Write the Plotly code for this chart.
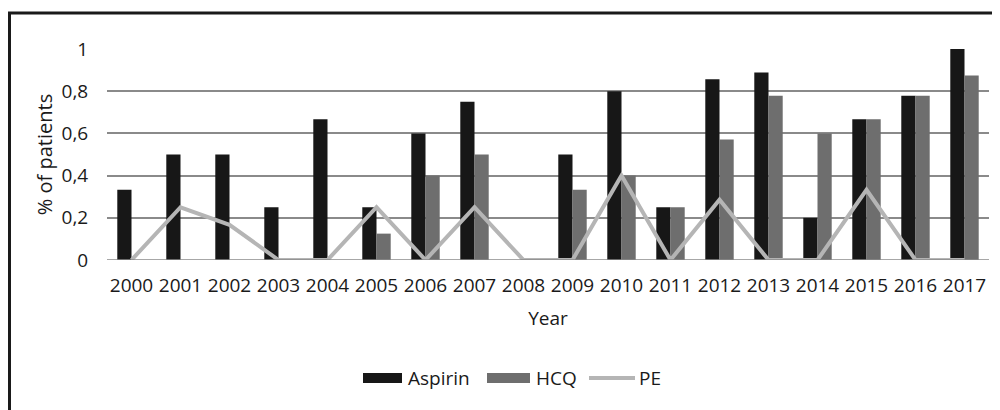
import plotly.graph_objects as go

years = [str(y) for y in range(2000, 2018)]
aspirin = [0.333, 0.5, 0.5, 0.25, 0.667, 0.25, 0.6, 0.75, 0, 0.5, 0.8, 0.25, 0.857, 0.889, 0.2, 0.667, 0.778, 1.0]
hcq = [0, 0, 0, 0, 0, 0.125, 0.4, 0.5, 0, 0.333, 0.4, 0.25, 0.571, 0.778, 0.6, 0.667, 0.778, 0.875]
pe = [0, 0.25, 0.167, 0, 0, 0.25, 0, 0.25, 0, 0, 0.4, 0, 0.286, 0, 0, 0.333, 0, 0]
y_ticks = [0, 0.2, 0.4, 0.6, 0.8, 1]
y_tick_text = ["0", "0,2", "0,4", "0,6", "0,8", "1"]
series_names = ["Aspirin", "HCQ", "PE"]

C_ASP = "#171717"
C_HCQ = "#6e6e6e"
C_PE = "#b5b5b5"
FONT = "Open Sans"
TXT = "#1a1a1a"
FS = 19

# page has an 8px body margin: work in screen pixels, convert to figure pixels
OFF = 8
W, H = 1000 - OFF, 410 - OFF
L, R, T, B = 107 - OFF, 11, 49 - OFF, 150
pw, ph = W - L - R, H - T - B

def px_x(p):
    return (p - OFF - L) / pw

def px_y(p):
    return (H - B - (p - OFF)) / ph

fig = go.Figure()
fig.add_trace(go.Bar(x=years, y=aspirin, name=series_names[0], marker_color=C_ASP, marker_line_width=0, showlegend=False))
fig.add_trace(go.Bar(x=years, y=hcq, name=series_names[1], marker_color=C_HCQ, marker_line_width=0, showlegend=False))
fig.add_trace(go.Scatter(x=years, y=pe, name=series_names[2], mode="lines", line=dict(color=C_PE, width=4), showlegend=False))

fig.update_layout(
    width=W, height=H,
    margin=dict(l=L, r=R, t=T, b=B),
    paper_bgcolor="white", plot_bgcolor="white",
    barmode="group", bargap=0.42, bargroupgap=0,
    font=dict(family=FONT, size=FS, color=TXT),
    xaxis=dict(
        type="category", showgrid=False, zeroline=False, showline=False,
        ticks="outside", ticklen=8, tickcolor="rgba(0,0,0,0)",
        tickfont=dict(size=FS),
        title=dict(text="Year", font=dict(size=FS), standoff=14),
    ),
    yaxis=dict(
        range=[0, 1.0], tickvals=y_ticks, ticktext=y_tick_text,
        showgrid=True, gridcolor="#8a8a8a", gridwidth=1.5,
        zeroline=False, showline=False,
        ticks="outside", ticklen=14, tickcolor="rgba(0,0,0,0)",
        tickfont=dict(size=FS),
        title=dict(text="% of patients", font=dict(size=20), standoff=3),
    ),
    showlegend=False,
)

# baseline (zero gridline) above bars
fig.add_shape(type="line", xref="paper", yref="y", x0=0, x1=1, y0=0, y1=0,
              line=dict(color="#8a8a8a", width=1.5))

# outer frame
fig.add_shape(type="rect", xref="paper", yref="paper",
              x0=px_x(9.5), x1=px_x(1030), y0=px_y(440), y1=px_y(13),
              line=dict(color="#1a1a1a", width=3), fillcolor="rgba(0,0,0,0)", layer="above")

# custom legend
leg_y = px_y(378)
items = [
    (series_names[0], C_ASP, "bar", 363, 402, 406),
    (series_names[1], C_HCQ, "bar", 487, 530, 534),
    (series_names[2], C_PE, "line", 589, 635, 637),
]
for name, col, kind, x0, x1, tx in items:
    if kind == "bar":
        fig.add_shape(type="rect", xref="paper", yref="paper",
                      x0=px_x(x0), x1=px_x(x1), y0=px_y(383), y1=px_y(373),
                      fillcolor=col, line_width=0)
    else:
        fig.add_shape(type="line", xref="paper", yref="paper",
                      x0=px_x(x0), x1=px_x(x1), y0=leg_y, y1=leg_y,
                      line=dict(color=col, width=4))
    fig.add_annotation(text=name, xref="paper", yref="paper", x=px_x(tx), y=leg_y,
                       xanchor="left", yanchor="middle", showarrow=False,
                       font=dict(size=FS, color=TXT))

fig.write_html("out.html")
